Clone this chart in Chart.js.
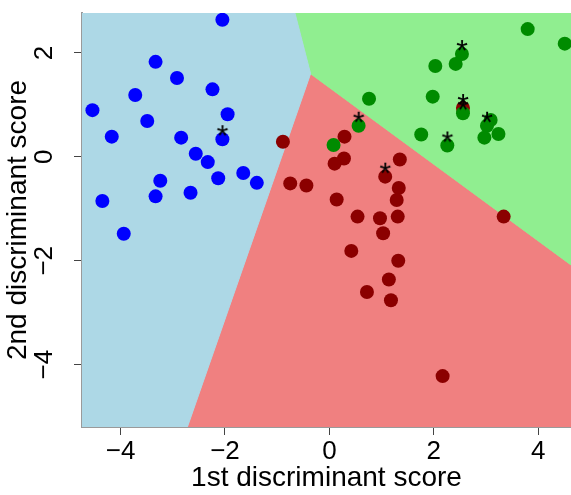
<!DOCTYPE html>
<html>
<head>
<meta charset="utf-8">
<script src="https://cdn.jsdelivr.net/npm/chart.js@4.4.1/dist/chart.umd.min.js"></script>
<style>
  html, body { margin: 0; padding: 0; background: #fff; }
</style>
</head>
<body>
<canvas id="chart" width="571" height="495"></canvas>
<script>
// axis limits and ticks
const xMin = -4.74, xMax = 4.63;
const yMin = -5.2, yMax = 2.77;
const xTicks = [-4, -2, 0, 2, 4];
const yTicks = [-4, -2, 0, 2];

// group 1 (blue)
const blueX = [-2.05, -3.33, -2.92, -2.24, -3.72, -4.54, -1.95, -3.49, -4.17, -2.84, -2.05,
               -2.56, -2.33, -2.13, -1.65, -1.39, -3.24, -3.33, -2.66, -4.35, -3.94];
const blueY = [2.64, 1.83, 1.52, 1.30, 1.19, 0.90, 0.82, 0.69, 0.39, 0.37, 0.34,
               0.06, -0.10, -0.41, -0.31, -0.50, -0.46, -0.76, -0.69, -0.85, -1.48];

// group 2 (dark red)
const redX = [-0.89, -0.75, -0.44, 0.29, 0.28, 0.10, 1.35, 1.07, 1.33, 1.29, 0.14, 0.54,
              0.97, 1.31, 3.34, 2.56, 1.03, 0.42, 1.32, 1.14, 0.72, 1.18, 2.17];
const redY = [0.29, -0.51, -0.55, 0.39, -0.03, -0.13, -0.05, -0.38, -0.60, -0.83, -0.82, -1.15,
              -1.18, -1.15, -1.15, 0.94, -1.47, -1.81, -2.00, -2.36, -2.60, -2.76, -4.22];

// group 3 (green)
const greenX = [3.80, 4.51, 2.54, 2.42, 2.03, 1.98, 0.76, 2.56, 3.09, 3.02, 3.24, 2.97, 1.76, 2.26, 0.56, 0.08];
const greenY = [2.46, 2.18, 1.98, 1.79, 1.75, 1.16, 1.12, 0.84, 0.71, 0.60, 0.44, 0.37, 0.43, 0.22, 0.60, 0.23];

// points marked with *
const starX = [-2.05, 0.56, 1.07, 2.54, 2.26, 2.56, 2.56, 3.02];
const starY = [0.34, 0.60, -0.38, 1.98, 0.22, 0.94, 0.84, 0.60];

// decision regions (corners of each polygon)
const blueRegionX = [xMin, -0.66, -0.36, -2.72, xMin, xMin];
const blueRegionY = [yMax, yMax, 1.60, yMin, yMin, yMax];
const greenRegionX = [-0.66, xMax, xMax, -0.36, -0.66];
const greenRegionY = [yMax, yMax, -2.08, 1.60, yMax];
const redRegionX = [-0.36, xMax, xMax, -2.72, -0.36];
const redRegionY = [1.60, -2.08, yMin, yMin, 1.60];

const FONT = '"Liberation Sans", Arial, Helvetica, sans-serif';

function pts(xs, ys) {
    return xs.map((x, i) => ({x: x, y: ys[i]}));
}

function region(xs, ys, color) {
    return {
        data: pts(xs, ys),
        showLine: true,
        fill: 'shape',
        backgroundColor: color,
        borderColor: color,
        borderWidth: 1,
        pointRadius: 0,
        order: 10
    };
}

function points(xs, ys, color, order) {
    return {
        data: pts(xs, ys),
        backgroundColor: color,
        borderWidth: 0,
        pointRadius: 7,
        order: order
    };
}

// "*" glyph drawn a bit above the point centre
function starImage() {
    let c = document.createElement('canvas');
    c.width = 20;
    c.height = 44;
    let g = c.getContext('2d');
    g.fillStyle = '#000';
    g.font = '30px ' + FONT;
    g.textAlign = 'center';
    g.fillText('*', 10, 28);
    return c;
}

function minus(v) {
    return String(v).replace('-', '\u2212');
}

new Chart(document.getElementById('chart'), {
    type: 'scatter',
    data: {
        datasets: [
            region(blueRegionX, blueRegionY, '#ADD8E6'),
            region(greenRegionX, greenRegionY, '#90EE90'),
            region(redRegionX, redRegionY, '#F08080'),
            points(redX, redY, '#8B0000', 4),
            points(greenX, greenY, '#008B00', 3),
            points(blueX, blueY, '#0000FF', 2),
            {
                data: pts(starX, starY),
                pointStyle: starImage(),
                pointRadius: 8,
                order: 1
            }
        ]
    },
    options: {
        responsive: false,
        animation: false,
        events: [],
        layout: { autoPadding: false, padding: { top: 13, right: 0, left: 0, bottom: 0 } },
        plugins: { legend: { display: false }, tooltip: { enabled: false } },
        scales: {
            x: {
                type: 'linear',
                min: xMin,
                max: xMax,
                afterBuildTicks: s => { s.ticks = xTicks.map(v => ({value: v})); },
                afterFit: s => {
                    s.height = 68;
                    s.paddingLeft = 0;
                    s.paddingRight = 0;
                },
                grid: { drawOnChartArea: false, tickLength: 8, color: '#444' },
                border: { display: true, color: '#9a9a9a', width: 2 },
                ticks: {
                    autoSkip: false,
                    maxRotation: 0,
                    padding: 1,
                    color: '#000',
                    font: { family: FONT, size: 26 },
                    callback: minus
                },
                title: {
                    display: true,
                    text: '1st discriminant score',
                    color: '#000',
                    font: { family: FONT, size: 28, lineHeight: 1 },
                    padding: { top: 0, bottom: 3 }
                }
            },
            y: {
                type: 'linear',
                min: yMin,
                max: yMax,
                afterBuildTicks: s => { s.ticks = yTicks.map(v => ({value: v})); },
                afterFit: s => {
                    s.width = 82;
                    s.paddingTop = 0;
                    s.paddingBottom = 0;
                },
                grid: { drawOnChartArea: false, tickLength: 8, color: '#444' },
                border: { display: true, color: '#9a9a9a', width: 2 },
                ticks: {
                    autoSkip: false,
                    minRotation: 90,
                    maxRotation: 90,
                    crossAlign: 'center',
                    padding: 14,
                    color: '#000',
                    font: { family: FONT, size: 26 },
                    callback: minus
                },
                title: {
                    display: true,
                    text: '2nd discriminant score',
                    color: '#000',
                    font: { family: FONT, size: 28, lineHeight: 1 },
                    padding: { top: 4, bottom: 0 }
                }
            }
        }
    }
});
</script>
</body>
</html>
